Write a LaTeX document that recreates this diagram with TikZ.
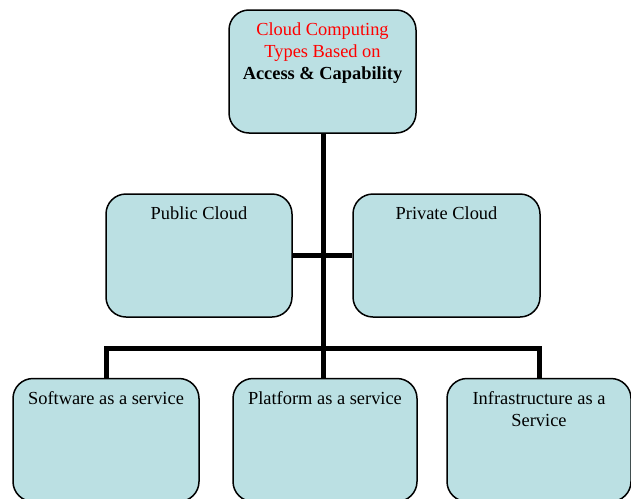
\documentclass[tikz,border=0pt]{standalone}
\usepackage{fontspec}
\setmainfont{Liberation Serif}
\definecolor{boxfill}{HTML}{BBE0E3}
\tikzset{
  cbox/.style={draw=black, line width=1.5pt, fill=boxfill, rounded corners=20pt,
    minimum width=186pt, minimum height=123pt, inner sep=0pt},
  ctext/.style={anchor=north, align=center, inner sep=0pt, yshift=-13.4pt,
    font=\fontsize{18.4}{21.7}\selectfont},
  bus/.style={draw=black, line width=5pt, line join=miter, line cap=butt}
}
\begin{document}
\begin{tikzpicture}[x=1pt, y=-1pt]
\useasboundingbox (0,0) rectangle (631,498);
\clip (0,0) rectangle (631,498);
% boxes
\node[cbox, minimum width=187pt] (top) at (322.5,71.5) {};
\node[cbox] (pub) at (199,255.5) {};
\node[cbox, minimum width=187pt] (priv) at (446.5,255.5) {};
\node[cbox] (sw) at (106,440) {};
\node[cbox, minimum width=184pt] (pf) at (325,440) {};
\node[cbox, minimum width=184pt] (inf) at (539,440) {};
% connectors
\coordinate (busy) at (0,348);
\draw[bus] (top.south -| 323,0) -- (323,348);
\draw[bus] (pub.east) -- (priv.west);
\draw[bus] (sw.north) -- (sw.north |- busy) -- (inf.north |- busy) -- (inf.north);
\draw[bus] (323,348) -- (323,378.75);
% texts
\node[ctext] (topt) at (top.north) {\textcolor{red}{Cloud Computing}\\ \textcolor{red}{Types Based on}\\ \textbf{Access \& Capability}};
\node[ctext] (pubt) at (pub.north) {Public Cloud};
\node[ctext] (privt) at (priv.north) {Private Cloud};
\node[ctext] (swt) at (sw.north) {Software as a service};
\node[ctext] (pft) at (pf.north) {Platform as a service};
\node[ctext] (inft) at (inf.north) {Infrastructure as a\\ Service};
\end{tikzpicture}
\end{document}
